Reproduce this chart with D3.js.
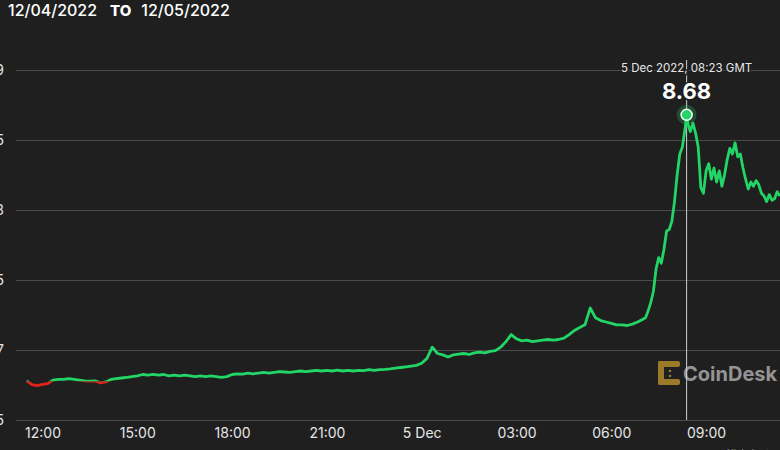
<!DOCTYPE html>
<html><head><meta charset="utf-8">
<script src="https://cdn.jsdelivr.net/npm/d3@7/dist/d3.min.js"></script>
<style>
html,body{margin:0;padding:0;background:#1f1f1f;overflow:hidden;}
svg{display:block;font-family:Inter,"Noto Sans",sans-serif;}
</style></head><body>
<script>
// ---- data ----
const headerFrom = "12/04/2022", headerTo = "12/05/2022", headerSep = "TO";
const times = [
"04T11:30","04T11:40","04T11:50","04T12:00","04T12:10","04T12:20","04T12:30","04T12:40","04T12:50","04T13:00",
"04T13:10","04T13:20","04T13:30","04T13:40","04T13:50","04T14:00","04T14:10","04T14:20","04T14:30","04T14:40",
"04T14:50","04T15:00","04T15:10","04T15:20","04T15:30","04T15:40","04T15:50","04T16:00","04T16:10","04T16:20",
"04T16:30","04T16:40","04T16:50","04T17:00","04T17:10","04T17:20","04T17:30","04T17:40","04T17:50","04T18:00",
"04T18:10","04T18:20","04T18:30","04T18:40","04T18:50","04T19:00","04T19:10","04T19:20","04T19:30","04T19:40",
"04T19:50","04T20:00","04T20:10","04T20:20","04T20:30","04T20:40","04T20:50","04T21:00","04T21:10","04T21:20",
"04T21:30","04T21:40","04T21:50","04T22:00","04T22:10","04T22:20","04T22:30","04T22:40","04T22:50","04T23:00",
"04T23:10","04T23:20","04T23:30","04T23:40","04T23:50",
"05T00:00","05T00:10","05T00:20","05T00:30","05T00:40","05T00:50","05T01:00","05T01:10","05T01:20","05T01:30",
"05T01:40","05T01:50","05T02:00","05T02:10","05T02:20","05T02:30","05T02:40","05T02:50","05T03:00","05T03:10",
"05T03:20","05T03:30","05T03:40","05T03:50","05T04:00","05T04:10","05T04:20","05T04:30","05T04:40","05T04:50",
"05T05:00","05T05:10","05T05:20","05T05:30","05T05:40","05T05:50","05T06:00","05T06:10","05T06:20","05T06:30",
"05T06:40","05T06:50","05T07:00",
"05T07:05","05T07:10","05T07:15","05T07:20","05T07:25","05T07:30","05T07:35","05T07:40","05T07:45","05T07:50",
"05T07:55","05T08:00","05T08:05","05T08:10","05T08:15","05T08:20","05T08:23","05T08:25","05T08:30","05T08:35",
"05T08:40","05T08:45","05T08:50","05T08:55","05T09:00","05T09:05","05T09:10","05T09:15","05T09:20","05T09:25",
"05T09:30","05T09:35","05T09:40","05T09:45","05T09:50","05T09:55","05T10:00","05T10:05","05T10:10","05T10:15",
"05T10:20","05T10:25","05T10:30","05T10:35","05T10:40","05T10:45","05T10:50","05T10:55","05T11:00","05T11:05",
"05T11:10","05T11:15","05T11:20"
];
const prices = [
6.78,6.752,6.745,6.755,6.76,6.785,6.79,6.79,6.795,6.79,
6.785,6.78,6.778,6.78,6.765,6.772,6.79,6.795,6.80,6.805,
6.81,6.815,6.825,6.82,6.826,6.82,6.825,6.815,6.82,6.815,
6.82,6.815,6.81,6.815,6.81,6.815,6.81,6.805,6.81,6.825,
6.83,6.828,6.835,6.83,6.835,6.84,6.835,6.84,6.845,6.843,
6.84,6.845,6.85,6.845,6.85,6.855,6.85,6.855,6.85,6.856,
6.85,6.855,6.85,6.855,6.853,6.86,6.855,6.86,6.862,6.865,
6.87,6.875,6.88,6.885,6.89,
6.905,6.94,7.02,6.975,6.965,6.95,6.965,6.97,6.975,6.968,
6.98,6.985,6.98,6.99,6.995,7.02,7.06,7.11,7.08,7.065,
7.07,7.06,7.065,7.07,7.075,7.07,7.075,7.085,7.11,7.14,
7.16,7.18,7.30,7.23,7.21,7.20,7.19,7.18,7.18,7.175,
7.185,7.20,7.22,
7.23,7.28,7.34,7.42,7.58,7.66,7.62,7.72,7.85,7.86,
7.92,8.06,8.25,8.40,8.45,8.58,8.68,8.62,8.56,8.62,
8.55,8.45,8.16,8.12,8.28,8.33,8.22,8.30,8.20,8.28,
8.17,8.25,8.36,8.44,8.40,8.48,8.38,8.40,8.30,8.22,
8.15,8.20,8.17,8.21,8.18,8.12,8.10,8.06,8.11,8.07,
8.08,8.13,8.10
];
const openThreshold = 6.775;
const yTicks = [6.5, 7, 7.5, 8, 8.5, 9];
const yTickLabels = ["6.5", "7", "7.5", "8", "8.5", "9"];
const tooltipTime = "05T08:23";
const tooltipDateLabel = "5 Dec 2022, 08:23 GMT";
const brandName = "CoinDesk";
const creditText = "Highcharts.com";

// ---- drawing ----
const W = 780, H = 450;
const parse = d3.utcParse("%Y-%m-%dT%H:%M");
const full = t => parse("2022-12-" + t);
const data = times.map((t, i) => ({ t: full(t), v: prices[i] }));

const x = d3.scaleUtc()
  .domain([full("04T12:00"), full("05T09:00")])
  .range([42.5, 42.5 + 21 * 31.6]);
const y = d3.scaleLinear().domain([6.5, 9]).range([420, 70]);

const svg = d3.select("body").append("svg").attr("width", W).attr("height", H);
svg.append("rect").attr("width", W).attr("height", H).attr("fill", "#1f1f1f");

// header
const hdr = svg.append("text").attr("x", 8).attr("y", 15.5)
  .attr("fill", "#ffffff").style("font-size", "16px").style("font-weight", "500");
hdr.append("tspan").text(headerFrom);
hdr.append("tspan").attr("dx", 13).style("font-weight", "800").style("font-size", "15px").text(headerSep);
hdr.append("tspan").attr("dx", 10).text(headerTo);

// gridlines + y labels
const yAxis = d3.axisLeft(y).tickValues(yTicks)
  .tickSize(-(W - 16)).tickFormat((d, i) => yTickLabels[i]).tickPadding(12);
const gy = svg.append("g").attr("transform", "translate(16,0)").call(yAxis);
gy.select(".domain").remove();
gy.selectAll(".tick line").attr("stroke", "#4a4a4a").attr("stroke-width", 1);
gy.selectAll(".tick text").attr("fill", "#e6e6e6").style("font-size", "14px")
  .style("font-family", "Inter,sans-serif");

// x axis labels
const xAxis = d3.axisBottom(x).ticks(d3.utcHour.every(3)).tickSize(0).tickPadding(0)
  .tickFormat(d => d.getUTCHours() === 0 ? d3.utcFormat("%-d %b")(d) : d3.utcFormat("%H:%M")(d));
const gx = svg.append("g").attr("transform", "translate(0,428)").call(xAxis);
gx.select(".domain").remove();
gx.selectAll(".tick text").attr("fill", "#e6e6e6").style("font-size", "14px")
  .style("font-family", "Inter,sans-serif").attr("dy", "0.71em");

// watermark
const wm = svg.append("g").attr("opacity", 0.85);
const lg = wm.append("g").attr("fill", "#b3892c");
lg.append("rect").attr("x", 658).attr("y", 361).attr("width", 6).attr("height", 24).attr("rx", 2);
lg.append("rect").attr("x", 658).attr("y", 361).attr("width", 22).attr("height", 6).attr("rx", 2);
lg.append("rect").attr("x", 658).attr("y", 379).attr("width", 22).attr("height", 6).attr("rx", 2);
lg.append("circle").attr("cx", 670).attr("cy", 371).attr("r", 1.3);
lg.append("circle").attr("cx", 670).attr("cy", 376).attr("r", 1.3);
wm.append("text").attr("x", 683).attr("y", 380.5).attr("fill", "#a9a9a9")
  .style("font-size", "20px").style("font-weight", "700").text(brandName);

// crosshair
const tip = data.find(d => +d.t === +full(tooltipTime));
svg.append("line").attr("x1", x(tip.t)).attr("x2", x(tip.t))
  .attr("y1", 60).attr("y2", 420).attr("stroke", "#cfcfcf").attr("stroke-width", 1);

// series line split by threshold
const line = d3.line().x(d => x(d.t)).y(d => y(d.v));
const yT = y(openThreshold);
const defs = svg.append("defs");
defs.append("clipPath").attr("id", "above").append("rect").attr("x", 0).attr("y", 0).attr("width", W).attr("height", yT);
defs.append("clipPath").attr("id", "below").append("rect").attr("x", 0).attr("y", yT).attr("width", W).attr("height", H - yT);
svg.append("path").datum(data).attr("d", line).attr("fill", "none")
  .attr("stroke", "#23d566").attr("stroke-width", 2.8).attr("stroke-linejoin", "round")
  .attr("clip-path", "url(#above)");
svg.append("path").datum(data).attr("d", line).attr("fill", "none")
  .attr("stroke", "#e3221c").attr("stroke-width", 2.8).attr("stroke-linejoin", "round")
  .attr("clip-path", "url(#below)");

// marker
svg.append("circle").attr("cx", x(tip.t)).attr("cy", y(tip.v)).attr("r", 10)
  .attr("fill", "#23d566").attr("opacity", 0.25);
svg.append("circle").attr("cx", x(tip.t)).attr("cy", y(tip.v)).attr("r", 5.5)
  .attr("fill", "#23d566").attr("stroke", "#ffffff").attr("stroke-width", 1.5);

// tooltip texts
svg.append("text").attr("x", x(tip.t)).attr("y", 72).attr("text-anchor", "middle")
  .attr("fill", "#e6e6e6").attr("stroke", "#1f1f1f").attr("stroke-width", 3)
  .attr("paint-order", "stroke").style("font-size", "11.5px").text(tooltipDateLabel);
svg.append("text").attr("x", x(tip.t)).attr("y", 99).attr("text-anchor", "middle")
  .attr("fill", "#ffffff").attr("stroke", "#1f1f1f").attr("stroke-width", 3)
  .attr("paint-order", "stroke").style("font-size", "22px").style("font-weight", "700")
  .text(d3.format(".2f")(tip.v));

// credit
svg.append("text").attr("x", 727).attr("y", 456).attr("fill", "#999")
  .style("font-size", "9px").text(creditText);
</script>
</body></html>
